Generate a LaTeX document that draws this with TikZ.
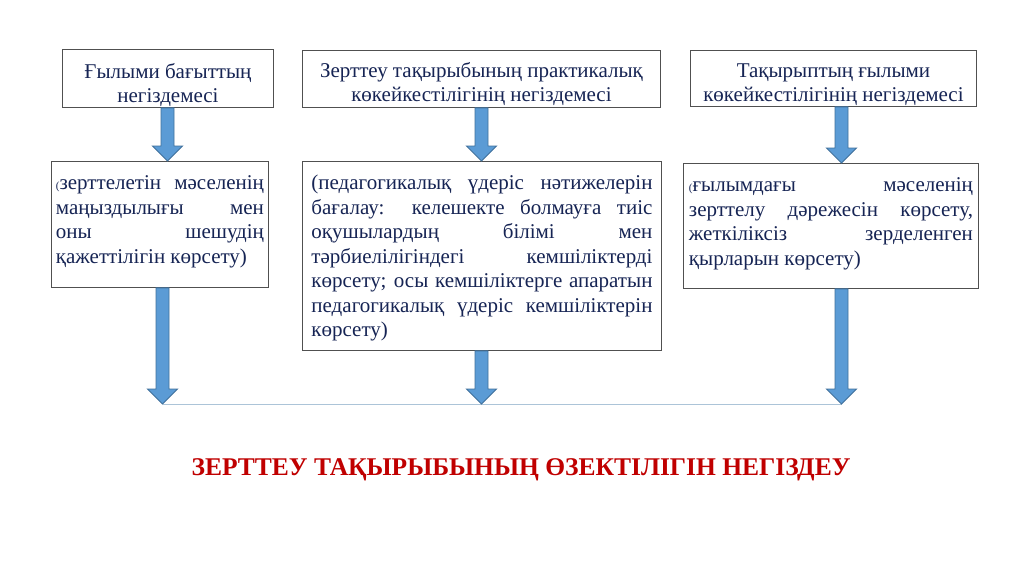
\documentclass[tikz,border=0pt]{standalone}
\usepackage{fontspec}
\setmainfont{Liberation Serif}
\usetikzlibrary{calc}
\definecolor{txtnavy}{RGB}{22,36,84}
\definecolor{titlered}{RGB}{192,0,0}
\definecolor{arrfill}{RGB}{91,155,213}
\definecolor{arrdraw}{RGB}{65,113,156}
\definecolor{baseblue}{RGB}{172,196,216}
\definecolor{boxline}{RGB}{80,80,80}
\newcommand\jl[1]{\makebox[\linewidth][s]{#1}}
\newcommand\smallparen{{\fontsize{11}{11}\selectfont(}}
\newcommand\blockarrow[3]{%
  \path let \p1=(#2), \p2=(#3) in
    [fill=arrfill, draw=arrdraw, line width=0.9pt, line join=miter]
    (#1pt-6.5pt,\y1) -- (#1pt+6.5pt,\y1) -- (#1pt+6.5pt,\y2+15pt)
    -- (#1pt+15pt,\y2+15pt) -- (#1pt,\y2) -- (#1pt-15pt,\y2+15pt)
    -- (#1pt-6.5pt,\y2+15pt) -- cycle;}
\tikzset{
  topbox/.style={draw=boxline, line width=0.9pt, fill=white, anchor=north west,
    inner xsep=0pt, text=txtnavy, font=\fontsize{21}{24}\selectfont},
  midbox/.style={draw=boxline, line width=0.9pt, fill=white, anchor=north west,
    inner ysep=11pt, text=txtnavy, font=\fontsize{21}{24.5}\selectfont},
  titletext/.style={text=titlered, font=\fontsize{25.5}{30}\selectfont\bfseries, anchor=base}
}
\begin{document}
\begin{tikzpicture}[x=1pt,y=-1pt]
\useasboundingbox (0,0) rectangle (1024,574);
\fill[white] (0,0) rectangle (1024,574);

% top boxes
\node[topbox, inner ysep=12pt] (t1) at (62,49)
  {\parbox[t][34pt][t]{211pt}{\centering\strut Ғылыми бағыттың\\негіздемесі}};
\node[topbox, inner ysep=10.5pt] (t2) at (302,50)
  {\parbox[t][36pt][t]{358pt}{\centering\strut Зерттеу тақырыбының практикалық\\көкейкестілігінің негіздемесі}};
\node[topbox, inner ysep=10.5pt] (t3) at (690,50)
  {\parbox[t][35pt][t]{286pt}{\centering\strut Тақырыптың ғылыми\\көкейкестілігінің негіздемесі}};

% middle boxes
\node[midbox, inner xsep=4.5pt] (m1) at (51,161)
  {\parbox[t][104pt][t]{208pt}{\strut
   \jl{\smallparen зерттелетін мәселенің}\\
   \jl{маңыздылығы мен}\\
   \jl{оны шешудің}\\
   қажеттілігін көрсету)}};
\node[midbox, inner xsep=9pt] (m2) at (302,161)
  {\parbox[t][167pt][t]{341pt}{\strut
   \jl{(педагогикалық үдеріс нәтижелерін}\\
   \jl{бағалау: келешекте болмауға тиіс}\\
   \jl{оқушылардың білімі мен}\\
   \jl{тәрбиелілігіндегі кемшіліктерді}\\
   \jl{көрсету; осы кемшіліктерге апаратын}\\
   \jl{педагогикалық үдеріс кемшіліктерін}\\
   көрсету)}};
\node[midbox, inner xsep=5.5pt] (m3) at (683,163)
  {\parbox[t][103pt][t]{284pt}{\strut
   \jl{\smallparen ғылымдағы мәселенің}\\
   \jl{зерттелу дәрежесін көрсету,}\\
   \jl{жеткіліксіз зерделенген}\\
   қырларын көрсету)}};

% arrow ends on the base line
\coordinate (e1) at (162.5,404);
\coordinate (e2) at (481.5,404);
\coordinate (e3) at (841.5,404);

\draw[draw=baseblue, line width=1pt] (e1) -- (e3);

% short arrows
\blockarrow{167.5}{t1.south}{m1.north}
\blockarrow{481.5}{t2.south}{m2.north}
\blockarrow{841.5}{t3.south}{m3.north}
% long arrows
\blockarrow{162.5}{m1.south}{e1}
\blockarrow{481.5}{m2.south}{e2}
\blockarrow{841.5}{m3.south}{e3}

% title
\node[titletext] (title) at (521,475) {ЗЕРТТЕУ ТАҚЫРЫБЫНЫҢ ӨЗЕКТІЛІГІН НЕГІЗДЕУ};
\end{tikzpicture}
\end{document}
